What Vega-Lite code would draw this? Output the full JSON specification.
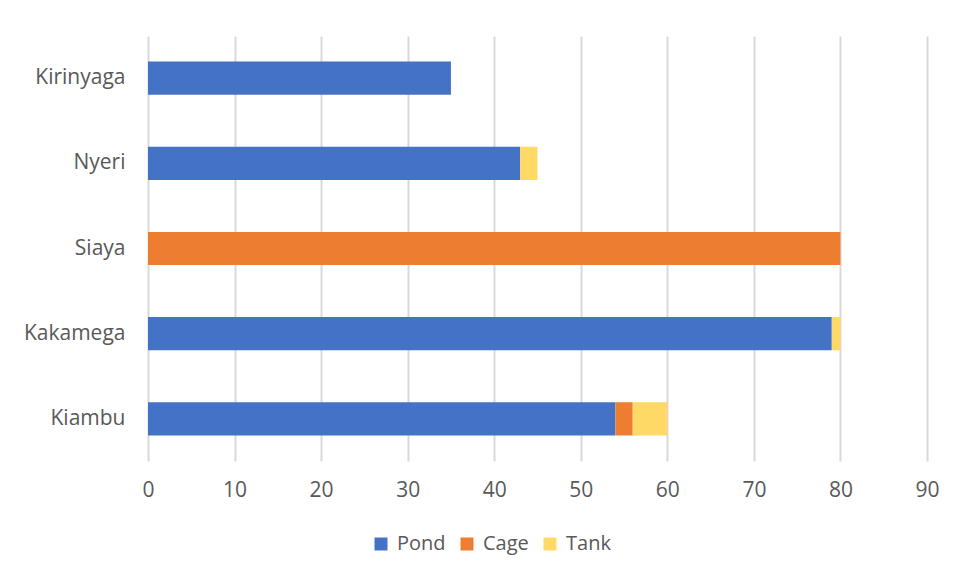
{
  "$schema": "https://vega.github.io/schema/vega-lite/v6.json",
  "autosize": "none",
  "width": 779,
  "height": 425,
  "padding": {"left": 148, "top": 36, "right": 30, "bottom": 118},
  "background": "white",
  "config": {
    "view": {"stroke": null},
    "font": "Open Sans",
    "axis": {"labelColor": "#595959", "labelFontSize": 21, "labelFont": "Open Sans"},
    "legend": {"labelColor": "#595959", "labelFontSize": 20, "labelFont": "Open Sans"}
  },
  "data": {
    "values": [
      {"county": "Kirinyaga", "type": "Pond", "value": 35},
      {"county": "Nyeri", "type": "Pond", "value": 43},
      {"county": "Nyeri", "type": "Tank", "value": 2},
      {"county": "Siaya", "type": "Cage", "value": 80},
      {"county": "Kakamega", "type": "Pond", "value": 79},
      {"county": "Kakamega", "type": "Tank", "value": 1},
      {"county": "Kiambu", "type": "Pond", "value": 54},
      {"county": "Kiambu", "type": "Cage", "value": 2},
      {"county": "Kiambu", "type": "Tank", "value": 4}
    ]
  },
  "mark": {"type": "bar"},
  "encoding": {
    "y": {
      "field": "county",
      "type": "nominal",
      "sort": ["Kirinyaga", "Nyeri", "Siaya", "Kakamega", "Kiambu"],
      "scale": {"paddingInner": 0.61, "paddingOuter": 0.3},
      "axis": {"title": null, "domain": false, "ticks": false, "labelPadding": 23, "grid": false}
    },
    "x": {
      "field": "value",
      "type": "quantitative",
      "stack": "zero",
      "scale": {"domain": [0, 90], "nice": false},
      "axis": {"title": null, "domain": false, "ticks": false, "values": [0,10,20,30,40,50,60,70,80,90], "labelOverlap": false, "labelFlush": false, "grid": true, "gridColor": "#d9d9d9", "gridWidth": 2, "labelPadding": 18}
    },
    "color": {
      "field": "type",
      "type": "nominal",
      "sort": ["Pond", "Cage", "Tank"],
      "scale": {"domain": ["Pond", "Cage", "Tank"], "range": ["#4472C4", "#ED7D31", "#FFD966"]},
      "legend": {
        "title": null,
        "orient": "none",
        "direction": "horizontal",
        "legendX": 223,
        "legendY": 498,
        "symbolType": "square",
        "symbolSize": 169,
        "symbolStrokeWidth": 0,
        "labelOffset": 6,
        "columnPadding": 11
      }
    },
    "order": {"field": "typeOrder"}
  }
}
